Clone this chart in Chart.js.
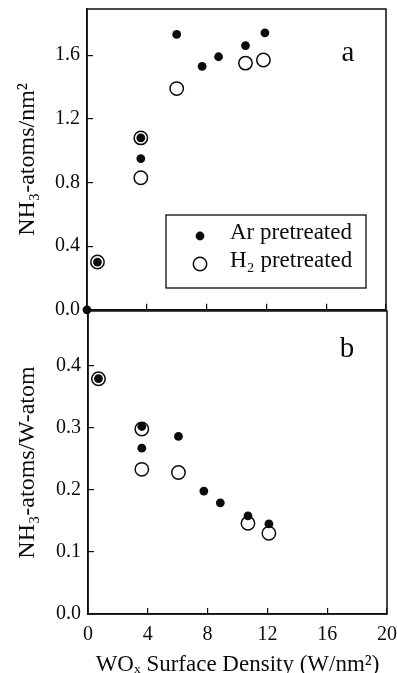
<!DOCTYPE html>
<html>
<head>
<meta charset="utf-8">
<script src="https://cdn.jsdelivr.net/npm/chart.js@4.4.0/dist/chart.umd.min.js"></script>
<style>
  body { margin: 0; background: #fff; }
  #wrap { position: relative; width: 397px; height: 673px; }
  .panel { position: absolute; left: 0; width: 397px; }
</style>
</head>
<body>
<div id="wrap">
  <div class="panel" style="top:0;height:318px"><canvas id="chartA"></canvas></div>
  <div class="panel" style="top:300px;height:373px"><canvas id="chartB"></canvas></div>
</div>
<script>
// axis ticks
const xTicks = [0, 4, 8, 12, 16, 20];
const yTicksA = [0, 0.4, 0.8, 1.2, 1.6];
const yTicksB = [0, 0.1, 0.2, 0.3, 0.4];

// panel a: NH3 per nm2
const arDensityA = [0, 0.7, 3.6, 3.6, 6.0, 7.7, 8.8, 10.6, 11.9];
const arSiteA    = [0, 0.30, 1.08, 0.95, 1.73, 1.53, 1.59, 1.66, 1.74];
const h2DensityA = [0.7, 3.6, 3.6, 6.0, 10.6, 11.8];
const h2SiteA    = [0.30, 1.08, 0.83, 1.39, 1.55, 1.57];

// panel b: NH3 per W atom
const arDensityB = [0.7, 3.6, 3.6, 6.05, 7.75, 8.85, 10.7, 12.1];
const arPerWB    = [0.379, 0.302, 0.267, 0.286, 0.198, 0.179, 0.158, 0.145];
const h2DensityB = [0.7, 3.6, 3.6, 6.05, 10.7, 12.1];
const h2PerWB    = [0.379, 0.298, 0.233, 0.228, 0.146, 0.130];

const ink = '#0c0c0c';
const serif = '"Liberation Serif", "DejaVu Serif", serif';

const pts = (xs, ys) => xs.map((x, i) => ({x: x, y: ys[i]}));

function arSet(data) {
  return {
    label: 'Ar pretreated', data: data,
    pointRadius: 4.4, pointBackgroundColor: ink, pointBorderColor: ink,
    pointBorderWidth: 0, showLine: false, clip: false
  };
}
function h2Set(data) {
  return {
    label: 'H₂ pretreated', data: data,
    pointRadius: 6.7, pointBackgroundColor: '#fff', pointBorderColor: ink,
    pointBorderWidth: 1.5, showLine: false, clip: false
  };
}

// no extra room for the end labels, the plot box is set by layout padding
function noPad(s) {
  s.paddingTop = 0; s.paddingBottom = 0;
  s.paddingLeft = 0; s.paddingRight = 0;
}

const frame = {
  id: 'frame',
  beforeDatasetsDraw(chart) {
    const {ctx, chartArea: a} = chart;
    ctx.save();
    ctx.strokeStyle = ink;
    ctx.lineWidth = 1.5;
    ctx.strokeRect(a.left, a.top, a.right - a.left, a.bottom - a.top);
    ctx.restore();
  }
};

const panelTag = {
  id: 'panelTag',
  afterDraw(chart, args, o) {
    const {ctx, chartArea: a} = chart;
    ctx.save();
    ctx.font = '29px ' + serif;
    ctx.fillStyle = ink;
    ctx.textAlign = 'center';
    ctx.textBaseline = 'middle';
    ctx.fillText(o.text, a.right + o.dx, a.top + o.dy);
    ctx.restore();
  }
};

const boxLegend = {
  id: 'boxLegend',
  afterDraw(chart, args, o) {
    if (!o.show) return;
    const {ctx, chartArea: a} = chart;
    const x = a.left + 79, y = a.top + 206, w = 200, h = 73;
    ctx.save();
    ctx.strokeStyle = ink;
    ctx.lineWidth = 1.3;
    ctx.strokeRect(x, y, w, h);
    ctx.font = '23px ' + serif;
    ctx.textBaseline = 'middle';
    chart.data.datasets.forEach((ds, i) => {
      const cy = y + 21 + i * 28;
      ctx.beginPath();
      ctx.arc(x + 34, cy, ds.pointRadius, 0, Math.PI * 2);
      ctx.fillStyle = ds.pointBackgroundColor;
      ctx.fill();
      if (ds.pointBorderWidth) {
        ctx.lineWidth = ds.pointBorderWidth;
        ctx.strokeStyle = ink;
        ctx.stroke();
      }
      ctx.fillStyle = ink;
      ctx.fillText(ds.label, x + 64, cy - 3);
    });
    ctx.restore();
  }
};

function xScale(labels) {
  return {
    type: 'linear', min: 0, max: 20,
    afterBuildTicks: s => { s.ticks = xTicks.map(v => ({value: v})); },
    grid: {drawOnChartArea: false, tickLength: -6, color: ink, lineWidth: 1.2},
    border: {color: ink, width: 1.5},
    ticks: {display: labels, padding: 15, color: ink, maxRotation: 0,
            font: {family: serif, size: 20}},
    title: {display: labels, text: 'WOₓ Surface Density (W/nm²)', color: ink,
            font: {family: serif, size: 23}, padding: {top: 0, bottom: -6}},
    afterFit: s => { s.height = labels ? 59 : 0; noPad(s); }
  };
}

function yScale(max, ticks, text, width) {
  return {
    type: 'linear', min: 0, max: max,
    afterBuildTicks: s => { s.ticks = ticks.map(v => ({value: v})); },
    grid: {drawOnChartArea: false, tickLength: -6, color: ink, lineWidth: 1.2},
    border: {color: ink, width: 1.5},
    ticks: {padding: 13, color: ink, font: {family: serif, size: 20},
            callback: v => v.toFixed(1)},
    title: {display: true, text: text, color: ink,
            font: {family: serif, size: 24}, padding: {top: 13, bottom: 0}},
    afterFit: s => { s.width = width; noPad(s); }
  };
}

new Chart(document.getElementById('chartA'), {
  type: 'scatter',
  data: {datasets: [arSet(pts(arDensityA, arSiteA)), h2Set(pts(h2DensityA, h2SiteA))]},
  options: {
    responsive: true, maintainAspectRatio: false, animation: false,
    layout: {padding: {top: 9, right: 11, bottom: 7, left: 0}},
    scales: {
      x: xScale(false),
      y: yScale(1.89, yTicksA, 'NH₃-atoms/nm²', 87)
    },
    plugins: {
      legend: {display: false}, tooltip: {enabled: false},
      panelTag: {text: 'a', dx: -38, dy: 44},
      boxLegend: {show: true}
    }
  },
  plugins: [frame, panelTag, boxLegend]
});

new Chart(document.getElementById('chartB'), {
  type: 'scatter',
  data: {datasets: [arSet(pts(arDensityB, arPerWB)), h2Set(pts(h2DensityB, h2PerWB))]},
  options: {
    responsive: true, maintainAspectRatio: false, animation: false,
    layout: {padding: {top: 11, right: 10, bottom: 0, left: 0}},
    scales: {
      x: xScale(true),
      y: yScale(0.488, yTicksB, 'NH₃-atoms/W-atom', 88)
    },
    plugins: {
      legend: {display: false}, tooltip: {enabled: false},
      panelTag: {text: 'b', dx: -40, dy: 38},
      boxLegend: {show: false}
    }
  },
  plugins: [frame, panelTag, boxLegend]
});
</script>
</body>
</html>
